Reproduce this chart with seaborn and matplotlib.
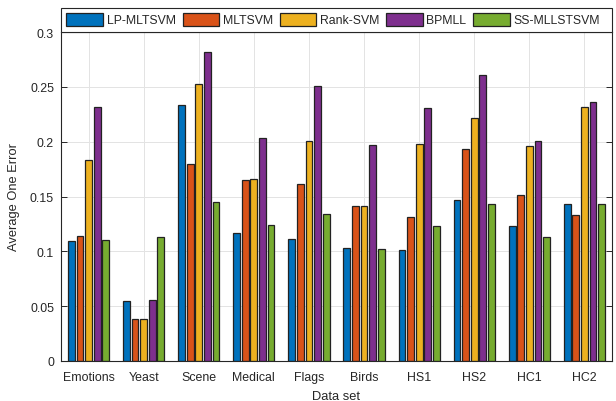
import matplotlib
matplotlib.use("Agg")
import matplotlib.pyplot as plt
from matplotlib.patches import Rectangle
import seaborn as sns
import pandas as pd

datasets = ["Emotions", "Yeast", "Scene", "Medical", "Flags", "Birds", "HS1", "HS2", "HC1", "HC2"]
methods = ["LP-MLTSVM", "MLTSVM", "Rank-SVM", "BPMLL", "SS-MLLSTSVM"]

lp_mltsvm = [0.109, 0.055, 0.233, 0.117, 0.111, 0.103, 0.101, 0.147, 0.123, 0.143]
mltsvm = [0.114, 0.038, 0.180, 0.165, 0.161, 0.141, 0.131, 0.193, 0.151, 0.133]
rank_svm = [0.183, 0.038, 0.253, 0.166, 0.201, 0.141, 0.198, 0.222, 0.196, 0.232]
bpmll = [0.232, 0.056, 0.282, 0.203, 0.251, 0.197, 0.231, 0.261, 0.201, 0.236]
ss_mllstsvm = [0.110, 0.113, 0.145, 0.124, 0.134, 0.102, 0.123, 0.143, 0.113, 0.143]

yticks = [0, 0.05, 0.1, 0.15, 0.2, 0.25, 0.3]
ytick_labels = ["0", "0.05", "0.1", "0.15", "0.2", "0.25", "0.3"]

colors = ["#0072BD", "#D95319", "#EDB120", "#7E2F8E", "#77AC30"]

rows = []
for name, vals in zip(methods, [lp_mltsvm, mltsvm, rank_svm, bpmll, ss_mllstsvm]):
    for d, v in zip(datasets, vals):
        rows.append({"Data set": d, "Method": name, "Value": v})
df = pd.DataFrame(rows)

sns.set_theme(style="white")
plt.rcParams["font.family"] = ["Liberation Sans", "DejaVu Sans"]
text_color = "#262626"

W, H = 616, 402
fig = plt.figure(figsize=(W / 100, H / 100), dpi=100)
ax = fig.add_axes([61 / W, 1 - 362 / H, (612 - 61) / W, (362 - 33) / H])

sns.barplot(data=df, x="Data set", y="Value", hue="Method", hue_order=methods,
            order=datasets, palette=colors, width=0.78, ax=ax,
            edgecolor="#222222", linewidth=0.9, saturation=1, legend=True)

# narrow each bar to leave a small gap between neighbours
for p in ax.patches:
    w = p.get_width()
    if w <= 0:
        continue
    cx = p.get_x() + w / 2
    nw = w * 0.8
    p.set_x(cx - nw / 2)
    p.set_width(nw)

ax.set_ylim(0, 0.3)
ax.set_xlim(-0.5, len(datasets) - 0.5)
ax.set_yticks(yticks)
ax.set_yticklabels(ytick_labels)
ax.set_xlabel("Data set", fontsize=9.3, color=text_color, labelpad=5)
ax.set_ylabel("Average One Error", fontsize=9.3, color=text_color, labelpad=7)

ax.grid(True, color="#e3e3e3", linewidth=0.7)
ax.set_axisbelow(True)
for s in ax.spines.values():
    s.set_color("#262626")
    s.set_linewidth(0.8)
ax.tick_params(axis="both", direction="in", length=4, width=0.7, colors=text_color,
               labelsize=8.9, top=False, right=True, bottom=True, left=True, pad=5)
ax.tick_params(axis="x", length=3, pad=7)

handles, labels = ax.get_legend_handles_labels()
ax.get_legend().remove()

# legend box spanning the full axes width, sitting on top of the plot area
fig.add_artist(Rectangle((61 / W, 1 - 33 / H), (612 - 61) / W, 24 / H,
                         transform=fig.transFigure, facecolor="white",
                         edgecolor="#262626", linewidth=0.8, zorder=3))
leg = fig.legend(handles, labels, loc="center left", ncol=5,
                 bbox_to_anchor=(64 / W, 1 - 20.5 / H),
                 frameon=False, fontsize=8.8,
                 handlelength=3.0, handleheight=1.3, handletextpad=0.3,
                 columnspacing=0.55, borderpad=0.2, borderaxespad=0)
leg.set_zorder(4)
for t in leg.get_texts():
    t.set_color(text_color)

fig.savefig("out.png", dpi=100)
